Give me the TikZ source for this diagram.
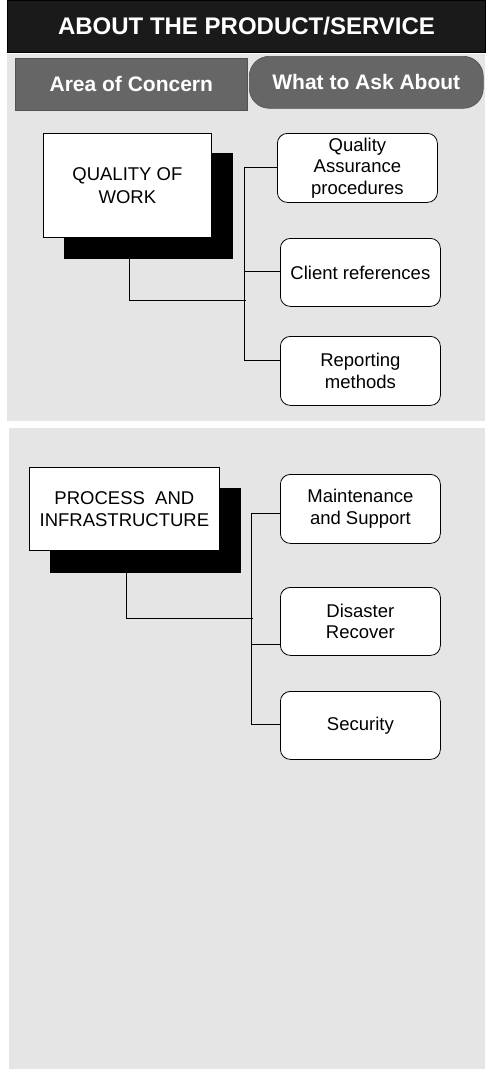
\documentclass[tikz,border=0pt]{standalone}
\usepackage{fontspec}
\setmainfont{Liberation Sans}
\begin{document}
\begin{tikzpicture}[x=1pt,y=-1pt,
  panel/.style={fill=panelgray,draw=none},
  tabbox/.style={fill=tabgray,draw=tabgray!80!black,line width=0.6pt,text=white,font=\fontsize{21}{25}\selectfont\bfseries,align=center,inner sep=0pt},
  mainbox/.style={fill=white,draw=black,line width=0.8pt,align=center,font=\fontsize{18.5}{22.5}\selectfont,inner sep=0pt},
  shadowbox/.style={fill=black,draw=black},
  childbox/.style={fill=white,draw=black,line width=0.8pt,rounded corners=10pt,align=center,font=\fontsize{18.5}{21.5}\selectfont,inner sep=0pt},
  conn/.style={draw=black,line width=1pt}]
\definecolor{panelgray}{HTML}{E5E5E5}
\definecolor{tabgray}{HTML}{666666}
\definecolor{headblack}{HTML}{1A1A1A}
\useasboundingbox (0,0) rectangle (485,1069);
\fill[white] (0,0) rectangle (485,1069);
% header
\node[fill=headblack,draw=black,line width=1pt,minimum width=478pt,minimum height=52pt,inner sep=0pt,anchor=north west,text=white,font=\fontsize{24}{28}\selectfont\bfseries] (head) at (7,0) {ABOUT THE PRODUCT/SERVICE};
% panels
\fill[panelgray] (7,54) rectangle (485,421);
\fill[panelgray] (9,428) rectangle (485,1069);
% tabs
\node[tabbox,minimum width=232pt,minimum height=52pt,anchor=north west] (tab1) at (15,58) {Area of Concern};
\node[tabbox,rounded corners=20pt,minimum width=234pt,minimum height=52pt,anchor=north west] (tab2) at (249,56) {What to Ask About};
% ---- Quality of work
\node[shadowbox,minimum width=168pt,minimum height=105pt,inner sep=0pt,anchor=north west] (qshadow) at (64,153) {};
\node[mainbox,minimum width=168pt,minimum height=104pt,anchor=north west] (qmain) at (43,133) {QUALITY OF\\WORK};
\node[childbox,minimum width=160pt,minimum height=69pt,anchor=north west] (qa) at (277,133) {Quality\\Assurance\\procedures};
\node[childbox,minimum width=160pt,minimum height=68pt,anchor=north west] (cr) at (280,238) {Client references};
\node[childbox,minimum width=160pt,minimum height=69pt,anchor=north west] (rm) at (280,336) {Reporting\\methods};
\coordinate (qtop) at (244,167);
\coordinate (qbot) at (244,360);
\coordinate (qjoin) at (246,300);
\draw[conn] (qshadow.south -| 129,0) |- (qjoin);
\draw[conn] (qtop) -- (qbot);
\draw[conn] (qtop) -- (qa.west |- qtop);
\draw[conn] (244,271) -- (cr.west |- 0,271);
\draw[conn] (qbot) -- (rm.west |- qbot);
% ---- Process and infrastructure
\node[shadowbox,minimum width=190pt,minimum height=84pt,inner sep=0pt,anchor=north west] (pshadow) at (50,488) {};
\node[mainbox,minimum width=190pt,minimum height=83pt,anchor=north west] (pmain) at (29,467) {PROCESS~~AND\\INFRASTRUCTURE};
\node[childbox,minimum width=160pt,minimum height=69pt,anchor=north west] (ms) at (280,474) {Maintenance\\and Support};
\node[childbox,minimum width=160pt,minimum height=68pt,anchor=north west] (dr) at (280,587) {Disaster\\Recover};
\node[childbox,minimum width=160pt,minimum height=68pt,anchor=north west] (se) at (280,691) {Security};
\coordinate (ptop) at (251,513);
\coordinate (pbot) at (251,724);
\coordinate (pjoin) at (253,618);
\draw[conn] (pshadow.south -| 126,0) |- (pjoin);
\draw[conn] (ptop) -- (pbot);
\draw[conn] (ptop) -- (ms.west |- ptop);
\draw[conn] (251,644) -- (dr.west |- 0,644);
\draw[conn] (pbot) -- (se.west |- pbot);
\end{tikzpicture}
\end{document}
